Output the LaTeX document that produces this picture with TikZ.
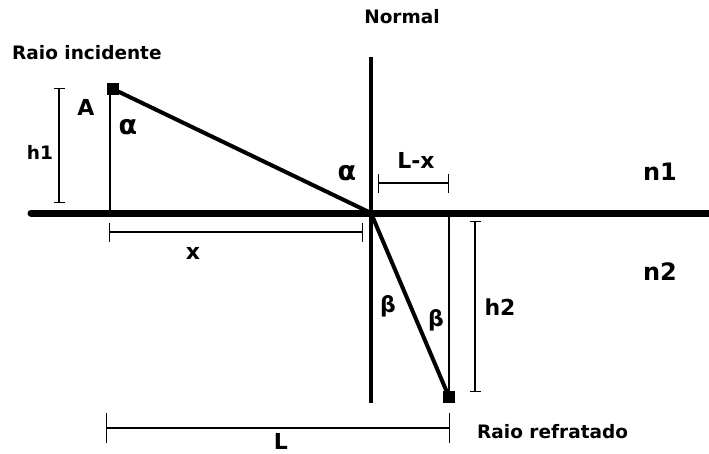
\documentclass[tikz,border=0pt]{standalone}
\usepackage{fontspec}
\setmainfont{DejaVu Sans}
\usetikzlibrary{arrows.meta}

\tikzset{
  lbl/.style={font=\bfseries\fontsize{18.5}{20}\selectfont, inner sep=0pt},
  biglbl/.style={font=\bfseries\fontsize{22}{24}\selectfont, inner sep=0pt},
  medlbl/.style={font=\bfseries\fontsize{24}{26}\selectfont, inner sep=0pt},
  greek/.style={font=\bfseries\fontsize{27}{29}\selectfont, inner sep=0pt},
  ray/.style={line width=4pt},
  guide/.style={line width=1.5pt},
  dimshort/.style={line width=1.2pt, {Bar[width=11pt]}-{Bar[width=11pt]}},
  dimmid/.style={line width=1.2pt, {Bar[width=19pt]}-{Bar[width=19pt]}},
  dimlong/.style={line width=1.2pt, {Bar[width=30pt]}-{Bar[width=30pt]}},
  ptbox/.style={fill, draw, minimum size=11pt, inner sep=0pt}
}

\begin{document}
\begin{tikzpicture}[x=1pt, y=-1pt]
\useasboundingbox (0,0) rectangle (709,453);

% Key points
\coordinate (O) at (371,213);
\coordinate (surfL) at (31,213);
\coordinate (surfR) at (709,213);
\coordinate (normT) at (371,57);
\coordinate (normB) at (371,403);
\node[ptbox] (A) at (113,89) {};
\node[ptbox] (B) at (449,397) {};
\coordinate (footA) at (110,213);
\coordinate (footB) at (449,213);

% Surface and normal
\draw[line width=7pt, line cap=round] (surfL) -- (surfR);
\draw[line width=4pt] (normT) -- (normB);

% Rays
\draw[ray] (A.center) -- (O);
\draw[ray] (O) -- (B.center);

% Guides
\draw[guide] (A.south west -| footA) -- (footA);
\draw[guide] (footB) -- (B.north);

% Dimensions
\coordinate (h1T) at (59,88);
\coordinate (h1B) at (59,203);
\draw[dimshort] (h1T) -- (h1B);
\coordinate (h2T) at (475,221);
\coordinate (h2B) at (475,392);
\draw[dimshort] (h2T) -- (h2B);
\coordinate (xL) at (109,232);
\coordinate (xR) at (363,232);
\draw[dimmid] (xL) -- (xR);
\coordinate (lxL) at (378,183);
\coordinate (lxR) at (449,183);
\draw[dimmid] (lxL) -- (lxR);
\coordinate (LL) at (106,428);
\coordinate (LR) at (450,428);
\draw[dimlong] (LL) -- (LR);

% Labels
\node[lbl, anchor=west] (inc) at (12,53) {Raio incidente};
\node[lbl] (normal) at (402,17) {Normal};
\node[lbl, anchor=west] (ref) at (477,432) {Raio refratado};
\node[lbl] (h1) at (40,152) {h1};
\node[biglbl] (lA) at (86,107) {A};
\node[greek] (alpha1) at (128,127) {α};
\node[greek] (alpha2) at (347,173) {α};
\node[biglbl] (lx) at (416,160) {L-x};
\node[medlbl] (n1) at (660,172) {n1};
\node[medlbl] (n2) at (660,272) {n2};
\node[biglbl] (lxx) at (193,253) {x};
\node[biglbl] (beta1) at (388,306) {β};
\node[biglbl] (beta2) at (436,320) {β};
\node[biglbl] (h2) at (500,307) {h2};
\node[biglbl] (lL) at (281,441) {L};

\end{tikzpicture}
\end{document}
